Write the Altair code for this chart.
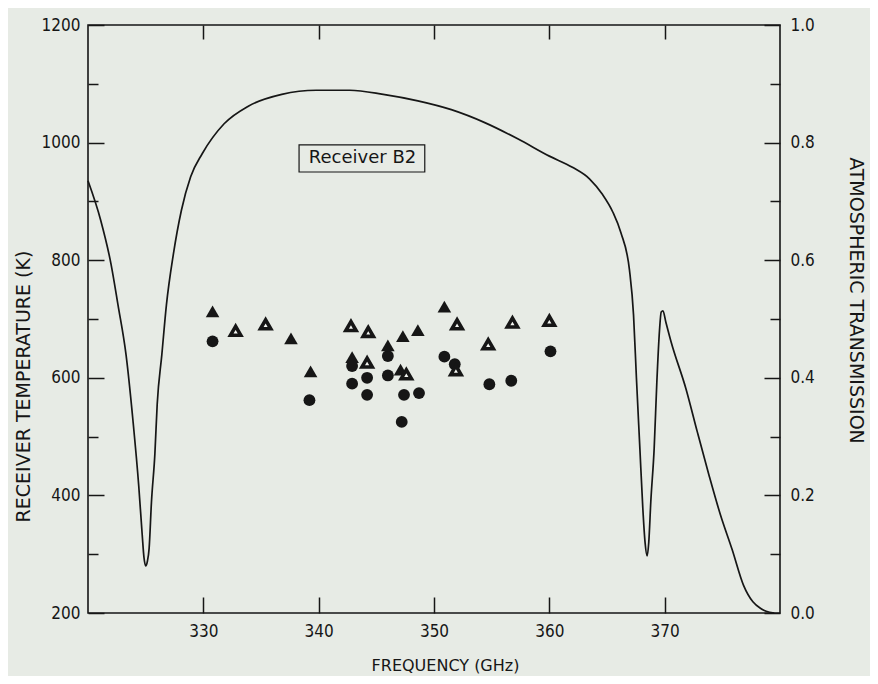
import altair as alt
import pandas as pd

# ---- data ----
curve_freq = [320.0, 321.1, 322.0, 322.6, 323.3, 323.9, 324.4, 324.7, 324.85, 325.0, 325.15, 325.3,
              325.5, 325.8, 326.0, 326.4, 326.8, 327.4, 328.1, 328.9, 329.9, 331.8, 333.9, 336.8,
              339.8, 342.7, 345.6, 348.6, 351.5, 354.4, 357.3, 360.0, 362.0, 363.5, 364.6, 365.5,
              366.2, 366.95, 367.3, 367.55, 367.85, 368.1, 368.3, 368.48, 368.62, 368.8, 369.09,
              369.32, 369.55, 369.7, 369.85, 370.1, 370.56, 371.85, 372.83, 373.85, 374.82,
              375.85, 376.84, 377.65, 378.3, 378.8, 379.5]
curve_trans = [0.735, 0.668, 0.593, 0.524, 0.439, 0.327, 0.216, 0.133, 0.095, 0.080, 0.088, 0.110,
               0.188, 0.271, 0.355, 0.439, 0.524, 0.610, 0.685, 0.742, 0.781, 0.832, 0.862, 0.882,
               0.889, 0.889, 0.882, 0.871, 0.856, 0.834, 0.806, 0.777, 0.758, 0.738, 0.712, 0.682,
               0.647, 0.583, 0.507, 0.400, 0.280, 0.180, 0.120, 0.097, 0.120, 0.190, 0.280,
               0.392, 0.480, 0.512, 0.514, 0.495, 0.461, 0.381, 0.308, 0.234, 0.168,
               0.108, 0.047, 0.019, 0.008, 0.003, 0.0]

tri_filled_freq = [330.8, 337.6, 339.3, 342.9, 346.0, 347.3, 348.6, 347.1, 350.9]
tri_filled_temp = [713, 667, 611, 635, 655, 671, 681, 614, 721]

tri_open_freq = [332.8, 335.4, 342.8, 344.3, 344.2, 347.6, 352.0, 351.9, 354.7, 356.8, 360.0]
tri_open_temp = [680, 691, 688, 678, 626, 606, 691, 613, 657, 694, 697]

circle_freq = [330.8, 339.2, 342.9, 342.9, 344.2, 344.2, 346.0, 346.0, 347.4, 348.7, 347.2,
               350.9, 351.8, 354.8, 356.7, 360.1]
circle_temp = [662, 562, 620, 590, 600, 571, 637, 604, 571, 574, 525, 636, 623, 589, 595, 645]

x_ticks = [330, 340, 350, 360, 370]
left_major_ticks = [200, 400, 600, 800, 1000, 1200]
left_minor_ticks = [300, 500, 700, 900, 1100]
right_major_ticks = [0.0, 0.2, 0.4, 0.6, 0.8, 1.0]
right_minor_ticks = [0.1, 0.3, 0.5, 0.7, 0.9]

label_text = ["Receiver B2"]
label_freq = [343.8]
label_temp = [973]
box_freq = [338.3, 349.2]
box_temp = [950, 996]

# ---- frames ----
curve = pd.DataFrame({"f": curve_freq, "t": curve_trans})
trif = pd.DataFrame({"f": tri_filled_freq, "k": tri_filled_temp})
trio = pd.DataFrame({"f": tri_open_freq, "k": tri_open_temp})
circ = pd.DataFrame({"f": circle_freq, "k": circle_temp})
lab = pd.DataFrame({"f": label_freq, "k": label_temp, "txt": label_text})
box = pd.DataFrame({"f": [box_freq[0]], "f2": [box_freq[1]], "k": [box_temp[0]], "k2": [box_temp[1]]})

LABEL_FONT = "DejaVu Sans Condensed, DejaVu Sans, sans-serif"
TITLE_FONT = "DejaVu Sans"
INK = "#161616"

common = dict(domain=False, grid=False, tickColor=INK, tickWidth=1.5, labelColor=INK,
              labelFont=LABEL_FONT, labelFontSize=17, titleColor=INK, titleFont=TITLE_FONT,
              titleFontWeight="normal", titleBaseline="middle",
              titleAlign="center", labelFlush=False, labelOverlap=False)

xs = alt.Scale(domain=[320, 380], nice=False, zero=False)
ks = alt.Scale(domain=[200, 1200], nice=False, zero=False)
ts = alt.Scale(domain=[0, 1], nice=False, zero=False)

ax_bottom = alt.Axis(orient="bottom", values=x_ticks, tickSize=16, offset=-16, labelPadding=10,
                     title="FREQUENCY (GHz)", titleX=357, titleY=68, titleFontSize=16, **common)
ax_top = alt.Axis(orient="top", values=x_ticks, tickSize=14, offset=-14, labels=False, title=None,
                  domain=False, grid=False, tickColor=INK, tickWidth=1.5)
ax_left = alt.Axis(orient="left", values=left_major_ticks, format="d", tickSize=16, offset=-16,
                   labelPadding=8, title="RECEIVER TEMPERATURE (K)", titleAngle=270, titleX=-81,
                   titleY=361, titleFontSize=19, **common)
ax_left_minor = alt.Axis(orient="left", values=left_minor_ticks, tickSize=10, offset=-10,
                         labels=False, title=None, domain=False, grid=False, tickColor=INK, tickWidth=1.5)
ax_right = alt.Axis(orient="right", values=right_major_ticks, format=".1f", tickSize=16, offset=-16,
                    labelPadding=10, title="ATMOSPHERIC TRANSMISSION", titleAngle=90, titleX=91,
                    titleY=275, titleFontSize=19, **common)
ax_right_minor = alt.Axis(orient="right", values=right_minor_ticks, tickSize=10, offset=-10,
                          labels=False, title=None, domain=False, grid=False, tickColor=INK, tickWidth=1.5)

line = alt.Chart(curve).mark_line(color=INK, strokeWidth=1.7, interpolate="monotone").encode(
    x=alt.X("f:Q", scale=xs, axis=ax_bottom),
    y=alt.Y("t:Q", scale=ts, axis=ax_right),
)
right_minor = alt.Chart(curve).mark_point(opacity=0).encode(
    x=alt.X("f:Q", scale=xs, axis=ax_top),
    y=alt.Y("t:Q", scale=ts, axis=ax_right_minor),
)
circles = alt.Chart(circ).mark_point(shape="circle", filled=True, color=INK, size=140, opacity=1).encode(
    x=alt.X("f:Q", scale=xs, axis=None),
    y=alt.Y("k:Q", scale=ks, axis=ax_left),
)
left_minor = alt.Chart(circ).mark_point(opacity=0).encode(
    x=alt.X("f:Q", scale=xs, axis=None),
    y=alt.Y("k:Q", scale=ks, axis=ax_left_minor),
)
tri_f = alt.Chart(trif).mark_point(shape="triangle-up", filled=True, color=INK, size=185, opacity=1).encode(
    x=alt.X("f:Q", scale=xs, axis=None),
    y=alt.Y("k:Q", scale=ks, axis=None),
)
tri_o = alt.Chart(trio).mark_point(shape="triangle-up", filled=False, fill="#f4f6f2", fillOpacity=1,
                                   stroke=INK, strokeWidth=3.6, size=105, opacity=1).encode(
    x=alt.X("f:Q", scale=xs, axis=None),
    y=alt.Y("k:Q", scale=ks, axis=None),
)
rect = alt.Chart(box).mark_rect(fillOpacity=0, stroke=INK, strokeWidth=1.2).encode(
    x=alt.X("f:Q", scale=xs, axis=None), x2="f2:Q",
    y=alt.Y("k:Q", scale=ks, axis=None), y2="k2:Q",
)
text = alt.Chart(lab).mark_text(font="DejaVu Sans", fontSize=18, color=INK, align="center",
                                baseline="middle").encode(
    x=alt.X("f:Q", scale=xs, axis=None),
    y=alt.Y("k:Q", scale=ks, axis=None),
    text="txt:N",
)

chart = alt.layer(line, right_minor, circles, left_minor, tri_f, tri_o, rect, text).resolve_scale(
    y="independent"
).resolve_axis(x="independent", y="independent").properties(
    width=692, height=588,
    autosize=alt.AutoSizeParams(type="none"),
    padding={"left": 80, "top": 17, "right": 90, "bottom": 63},
    background="#e7ebe5",
).configure_view(stroke=INK, strokeWidth=1.6)

chart.save("out.html", embed_options={"renderer": "svg", "actions": False})
